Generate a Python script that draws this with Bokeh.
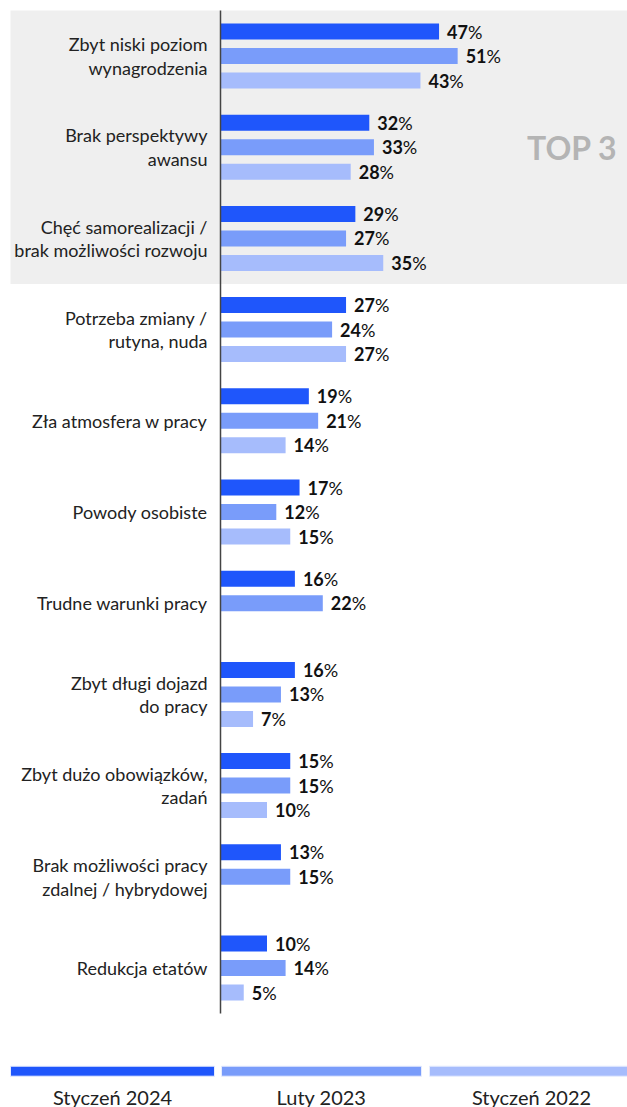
from bokeh.plotting import figure
from bokeh.models import Range1d, ColumnDataSource
from bokeh.core.properties import value
from bokeh.embed import file_html
from bokeh.resources import INLINE

# ---------------- data ----------------
categories = [
    "Zbyt niski poziom\nwynagrodzenia",
    "Brak perspektywy\nawansu",
    "Chęć samorealizacji /\nbrak możliwości rozwoju",
    "Potrzeba zmiany /\nrutyna, nuda",
    "Zła atmosfera w pracy",
    "Powody osobiste",
    "Trudne warunki pracy",
    "Zbyt długi dojazd\ndo pracy",
    "Zbyt dużo obowiązków,\nzadań",
    "Brak możliwości pracy\nzdalnej / hybrydowej",
    "Redukcja etatów",
]
series_names = ["Styczeń 2024", "Luty 2023", "Styczeń 2022"]
jan_2024 = [47, 32, 29, 27, 19, 17, 16, 16, 15, 13, 10]
feb_2023 = [51, 33, 27, 24, 21, 12, 22, 13, 15, 15, 14]
jan_2022 = [43, 28, 35, 27, 14, 15, None, 7, 10, None, 5]
top_label = "TOP 3"
top_n = 3

# ---------------- style / layout ----------------
colors = ["#1f56fb", "#799cfa", "#a6bcfc"]
W, H = 627, 1107
X0_PX = 220.0          # canvas x of 0 %
SCALE = 4.65           # px per %
PITCH = 91.2           # px per category
G0_PX = 55.5           # canvas y of first category centre
FONT = value("Lato")

def xd(px):
    return (px - X0_PX) / SCALE

def yd(px):
    return (px - G0_PX) / PITCH

p = figure(width=W, height=H, output_backend="svg", toolbar_location=None,
           x_range=Range1d(xd(0), xd(W)), y_range=Range1d(yd(H), yd(0)),
           min_border=0, outline_line_color=None)
p.axis.visible = False
p.grid.visible = False
p.background_fill_color = "white"

n = len(categories)

# grey background for top 3
p.quad(left=[xd(10)], right=[xd(W)], top=[-0.5], bottom=[top_n - 0.5],
       fill_color="#efefef", line_color=None)

p.text(x=[xd(617)], y=[1.0], text=[top_label], text_font=FONT,
       text_font_size="32px", text_font_style="bold", text_color="#b4b4b4",
       text_align="right", text_baseline="middle")

# bars
offsets = [-24.5 / PITCH, 0.0, 24.5 / PITCH]
bar_h = 16 / PITCH
digit_w = 0.58 * 18
for vals, off, col in zip([jan_2024, feb_2023, jan_2022], offsets, colors):
    ys, xs, labs, pct_off = [], [], [], []
    for i, v in enumerate(vals):
        if v is None:
            continue
        ys.append(i + off)
        xs.append(v)
        labs.append(str(v))
        pct_off.append(8 + len(str(v)) * digit_w)
    src = ColumnDataSource(dict(y=ys, x=xs, lab=labs, po=pct_off,
                                pct=["%"] * len(xs)))
    p.hbar(y="y", left=0, right="x", height=bar_h, source=src,
           fill_color=col, line_color=None)
    p.text(x="x", y="y", text="lab", source=src, x_offset=8, text_font=FONT,
           text_font_size="18px", text_font_style="bold", text_color="#111111",
           text_baseline="middle")
    p.text(x="x", y="y", text="pct", source=src, x_offset="po", text_font=FONT,
           text_font_size="18px", text_color="#111111", text_baseline="middle")

# axis line
p.segment(x0=[0], y0=[-0.5], x1=[0], y1=[n - 0.5], line_color="#444444",
          line_width=1.5)

# category labels
p.text(x=[xd(207)] * n, y=list(range(n)), text=categories, text_font=FONT,
       text_font_size="18px", text_color="#222222", text_align="right",
       text_baseline="middle", text_line_height=1.08)

# legend
leg_left = [10, 221, 429]
leg_right = [214, 421, 633]
leg_y = yd(1070.7)
p.quad(left=[xd(a) for a in leg_left], right=[xd(b) for b in leg_right],
       top=[leg_y - 5 / PITCH] * 3, bottom=[leg_y + 5 / PITCH] * 3,
       fill_color=colors, line_color="#e6ecfe", line_width=1)
p.text(x=[xd((a + b) / 2) for a, b in zip(leg_left, leg_right)],
       y=[yd(1096)] * 3, text=series_names, text_font=FONT,
       text_font_size="20px", text_color="#222222", text_align="center",
       text_baseline="middle")

open("out.html", "w").write(file_html(p, INLINE))
